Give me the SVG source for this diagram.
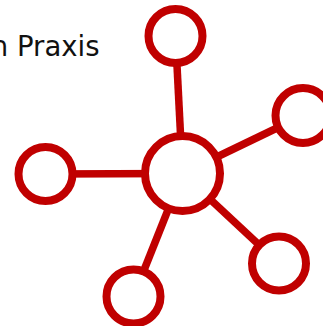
<svg xmlns="http://www.w3.org/2000/svg" width="323" height="326" viewBox="0 0 323 326">
  <style>
    .link { stroke: #c00000; stroke-width: 7.5; fill: none; }
    .node { stroke: #c00000; stroke-width: 8; fill: #ffffff; }
    .label { font-family: "DejaVu Sans", sans-serif; font-size: 27.5px; fill: #111111; }
  </style>
  <rect width="323" height="326" fill="#ffffff"/>
  <text class="label" x="99.5" y="55.5" text-anchor="end">n Praxis</text>
  <g id="connectors">
    <line class="link" x1="182.5" y1="173.5" x2="175.5" y2="36"/>
    <line class="link" x1="182.5" y1="173.5" x2="303" y2="115.5"/>
    <line class="link" x1="182.5" y1="173.5" x2="45.5" y2="174"/>
    <line class="link" x1="182.5" y1="173.5" x2="279" y2="263.5"/>
    <line class="link" x1="182.5" y1="173.5" x2="133.5" y2="296.5"/>
  </g>
  <g id="hub"><circle class="node" cx="182.5" cy="173.5" r="37.5"/></g>
  <g id="node-top"><circle class="node" cx="175.5" cy="36" r="27"/></g>
  <g id="node-right"><circle class="node" cx="303" cy="115.5" r="27.5"/></g>
  <g id="node-left"><circle class="node" cx="45.5" cy="174" r="27"/></g>
  <g id="node-bottom-right"><circle class="node" cx="279" cy="263.5" r="27"/></g>
  <g id="node-bottom"><circle class="node" cx="133.5" cy="296.5" r="27"/></g>
</svg>
